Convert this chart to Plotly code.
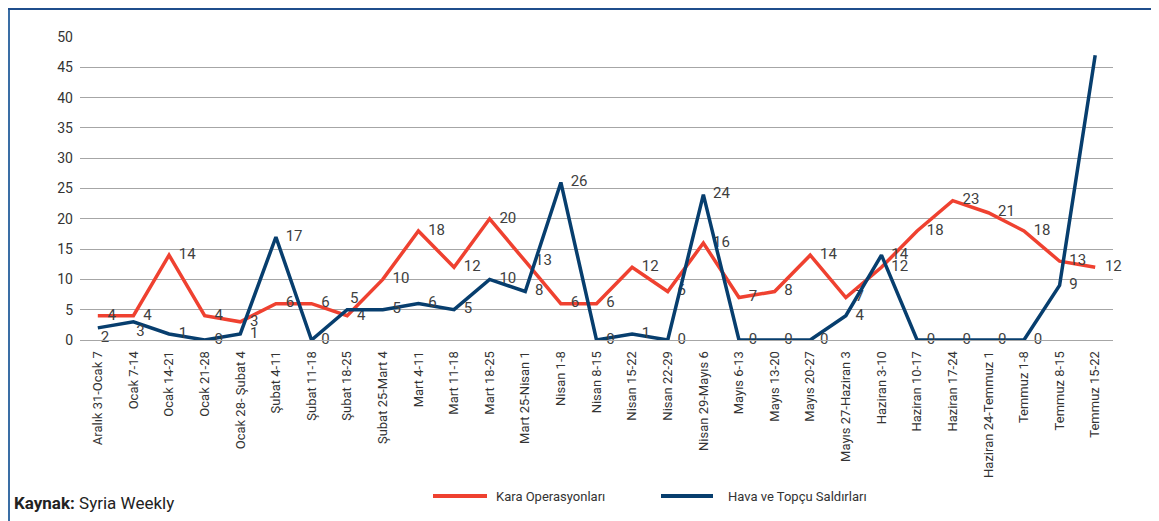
import plotly.graph_objects as go

categories = [
    "Aralık 31-Ocak 7", "Ocak 7-14", "Ocak 14-21", "Ocak 21-28", "Ocak 28- Şubat 4",
    "Şubat 4-11", "Şubat 11-18", "Şubat 18-25", "Şubat 25-Mart 4", "Mart 4-11",
    "Mart 11-18", "Mart 18-25", "Mart 25-Nisan 1", "Nisan 1-8", "Nisan 8-15",
    "Nisan 15-22", "Nisan 22-29", "Nisan 29-Mayıs 6", "Mayıs 6-13", "Mayıs 13-20",
    "Mayıs 20-27", "Mayıs 27-Haziran 3", "Haziran 3-10", "Haziran 10-17", "Haziran 17-24",
    "Haziran 24-Temmuz 1", "Temmuz 1-8", "Temmuz 8-15", "Temmuz 15-22",
]
kara = [4, 4, 14, 4, 3, 6, 6, 4, 10, 18, 12, 20, 13, 6, 6, 12, 8, 16, 7, 8, 14, 7, 12, 18, 23, 21, 18, 13, 12]
kara_labels = ["4", "4", "14", "4", "3", "6", "6", "4", "10", "18", "12", "20", "13", "6", "6", "12", "6", "16",
               "7", "8", "14", "7", "12", "18", "23", "21", "18", "13", "12"]
hava = [2, 3, 1, 0, 1, 17, 0, 5, 5, 6, 5, 10, 8, 26, 0, 1, 0, 24, 0, 0, 0, 4, 14, 0, 0, 0, 0, 9, 47]
hava_labels = ["2", "3", "1", "0", "1", "17", "0", "5", "5", "6", "5", "10", "8", "26", "0", "1", "0", "24",
               "0", "0", "0", "4", "14", "0", "0", "0", "0", "9", ""]
y_ticks = [0, 5, 10, 15, 20, 25, 30, 35, 40, 45, 50]
series_names = ["Kara Operasyonları", "Hava ve Topçu Saldırları"]

# label placement; everything sits to the right of its point except a few crowded ones
n = len(categories)
kara_pos = ["middle right"] * n
hava_pos = ["middle right"] * n
kara_gap = [14] * n
hava_gap = [14] * n
for i, p in ((0, "bottom right"), (1, "bottom right"), (7, "top right")):
    hava_pos[i] = p
    hava_gap[i] = 3

RED = "#EF4130"
BLUE = "#073E6E"
FONT = "Roboto, Liberation Sans, sans-serif"

# page has an 8px body margin: figure drawn at (8, 8) of the window
OFF = 8
W, H = 1151, 513
L, R, T, B = 72, 46, 29, 181
pw, ph = W - L - R, H - T - B


def px(x):
    """window x pixel -> paper coordinate"""
    return (x - OFF - L) / pw


def py(y):
    """window y pixel -> paper coordinate"""
    return (H - B - (y - OFF)) / ph


fig = go.Figure()
for vals, labels, pos, gap, color, name in [
        (kara, kara_labels, kara_pos, kara_gap, RED, series_names[0]),
        (hava, hava_labels, hava_pos, hava_gap, BLUE, series_names[1])]:
    fig.add_trace(go.Scatter(
        x=categories, y=vals, name=name, mode="lines+markers+text",
        line=dict(color=color, width=3.5),
        marker=dict(size=gap, color="rgba(0,0,0,0)", opacity=0,
                    line=dict(width=0, color="rgba(0,0,0,0)")),
        text=labels, textposition=pos,
        textfont=dict(family=FONT, size=15, color="#404040"), cliponaxis=False,
        showlegend=False, hoverinfo="x+y",
    ))

# legend drawn as lines + text
legend_shapes = []
legend_annots = []
for (x0, x1, tx), color, name in zip([(433, 487, 494), (661, 713, 726)], [RED, BLUE], series_names):
    legend_shapes.append(dict(type="line", xref="paper", yref="paper", x0=px(x0), x1=px(x1),
                              y0=py(496), y1=py(496), line=dict(color=color, width=4)))
    legend_annots.append(dict(text=name, xref="paper", yref="paper", x=px(tx), y=py(496),
                              xanchor="left", yanchor="middle", showarrow=False,
                              font=dict(family=FONT, size=13, color="#333333")))

fig.update_layout(
    width=W, height=H,
    margin=dict(l=L, r=R, t=T, b=B),
    paper_bgcolor="white", plot_bgcolor="white",
    font=dict(family=FONT, color="#333333"),
    showlegend=False,
    xaxis=dict(type="category", range=[-0.5, n - 0.5], tickangle=-90,
               showgrid=False, showline=True, linecolor="#A6A6A6", linewidth=1, ticks="",
               ticklabelstandoff=5,
               tickfont=dict(family=FONT, size=13, color="#333333"), fixedrange=True,
               automargin=False),
    yaxis=dict(range=[0, 50], tickvals=y_ticks, showgrid=True, gridcolor="#A6A6A6",
               gridwidth=1, zeroline=True, zerolinecolor="#A6A6A6", showline=False,
               ticks="", ticklabelstandoff=6,
               tickfont=dict(family=FONT, size=14, color="#333333"),
               fixedrange=True, automargin=False),
    shapes=[
        dict(type="line", xref="paper", yref="paper", x0=px(9), x1=px(9), y0=py(9), y1=py(530),
             line=dict(color="#3A6EA5", width=2)),
        dict(type="line", xref="paper", yref="paper", x0=px(8), x1=px(1170), y0=py(9), y1=py(9),
             line=dict(color="#1F4E8C", width=2)),
    ] + legend_shapes,
    annotations=[
        dict(text="<b>Kaynak:</b> Syria Weekly", xref="paper", yref="paper", x=px(12), y=py(503),
             xanchor="left", yanchor="middle", showarrow=False,
             font=dict(family=FONT, size=17, color="#222222")),
    ] + legend_annots,
)

fig.write_html("out.html")
